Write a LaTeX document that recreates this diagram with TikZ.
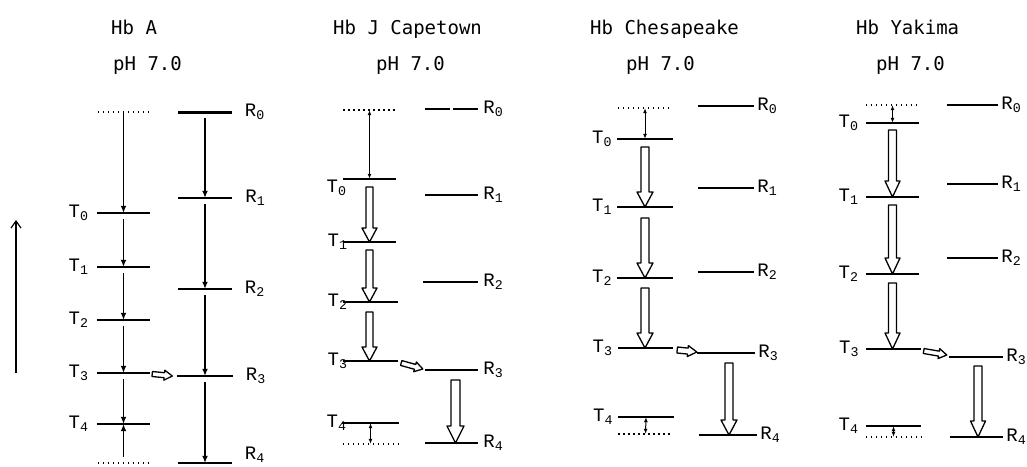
\documentclass[tikz,border=0pt]{standalone}
\usepackage{fontspec}
\newfontfamily\titlefont{DejaVu Sans Mono}
\newfontfamily\levelfont{Liberation Mono}
\usetikzlibrary{arrows.meta,calc}

% hollow block arrow: tail, tip, half shaft, half head, head length
\newcommand\fatarrow[5]{%
  \path (#1) coordinate (ft0) (#2) coordinate (ft1);
  \path ($(ft1)!#5!(ft0)$) coordinate (fth);
  \draw[hollow] ($(ft0)!#3!90:(ft1)$) -- ($(fth)!#3!90:(ft1)$)
    -- ($(fth)!#4!90:(ft1)$) -- (ft1) -- ($(fth)!#4!-90:(ft1)$)
    -- ($(fth)!#3!-90:(ft1)$) -- ($(ft0)!#3!-90:(ft1)$) -- cycle;}

\begin{document}
\begin{tikzpicture}[x=1pt, y=-1pt,
    lvl/.style={inner sep=0pt, minimum height=0pt, minimum width=53pt,
      append after command={(\tikzlastnode.west) edge[#1] (\tikzlastnode.east)}},
    lvl/.default=solidbar,
    solidbar/.style={-, line width=1.8pt},
    thinbar/.style={-, line width=1.2pt},
    heavybar/.style={-, line width=2.4pt},
    thickbar/.style={-, line width=3pt},
    brokenbar/.style={-, line width=1.6pt, dash pattern=on 25pt off 3pt},
    dotbar/.style={-, line width=1.3pt, dash pattern=on 1.3pt off 3.7pt},
    every label/.style={font=\levelfont\fontsize{19}{19}\selectfont, inner sep=0pt},
    tl/.style 2 args={label={[label distance=#1]left:T\textsubscript{#2}}},
    rl/.style 2 args={label={[label distance=#1]right:R\textsubscript{#2}}},
    hbtitle/.style={font=\titlefont\fontsize{19}{19}\selectfont, anchor=base west, inner sep=0pt},
    drop/.style={line width=1.3pt, -{Latex[length=7pt,width=6pt]}, shorten <=6pt},
    swing/.style={line width=1pt, {Latex[length=5pt,width=4pt]}-{Latex[length=5pt,width=4pt]}},
    hollow/.style={draw, fill=white, line width=1.3pt, line join=round}]

  \useasboundingbox (0,0) rectangle (1027,466);

  % titles
  \node[hbtitle] (ta) at (111,34) {Hb A};
  \node[hbtitle] (pa) at (113,70) {pH 7.0};
  \node[hbtitle] (tb) at (333,34) {Hb J Capetown};
  \node[hbtitle] (pb) at (376,70) {pH 7.0};
  \node[hbtitle] (tc) at (590,34) {Hb Chesapeake};
  \node[hbtitle] (pc) at (626,70) {pH 7.0};
  \node[hbtitle] (td) at (856,34) {Hb Yakima};
  \node[hbtitle] (pd) at (876,70) {pH 7.0};

  % energy axis
  \coordinate (up0) at (16,373);
  \coordinate (up1) at (16,220);
  \draw[line width=1.2pt, -{Straight Barb[length=7pt,width=10pt]}] (up0) -- (up1);

  % Hb A
  \node[lvl=dotbar, minimum width=51pt] (aD0) at (123.5,112) {};
  \node[lvl, tl={8pt}{0}] (aT0) at (123.5,213) {};
  \node[lvl, tl={8pt}{1}] (aT1) at (123.5,267) {};
  \node[lvl, tl={8pt}{2}] (aT2) at (123.5,320) {};
  \node[lvl, tl={8pt}{3}] (aT3) at (123.5,373) {};
  \node[lvl, tl={8pt}{4}] (aT4) at (123.5,424) {};
  \node[lvl=dotbar, minimum width=51pt] (aD4) at (123.5,463) {};
  \node[lvl=thickbar, rl={13pt}{0}] (aR0) at (205,112) {};
  \node[lvl, minimum width=54pt, rl={13pt}{1}] (aR1) at (205,198) {};
  \node[lvl, rl={13pt}{2}] (aR2) at (205,289) {};
  \node[lvl, minimum width=55pt, rl={13pt}{3}] (aR3) at (205,376) {};
  \node[lvl, label={[label distance=13pt, yshift=8pt]right:R\textsubscript{4}}] (aR4) at (205,463) {};

  \path[drop] (aD0) edge[shorten <=0pt] (aT0)
              (aT0) edge (aT1)
              (aT1) edge (aT2)
              (aT2) edge (aT3)
              (aT3) edge (aT4)
              (aD4) edge (aT4)
              (aR0) edge (aR1)
              (aR1) edge (aR2)
              (aR2) edge (aR3)
              (aR3) edge (aR4);
  \fatarrow{$(aT3.east)+(2,1)$}{$(aR3.west)+(-5,0)$}{2.5pt}{5pt}{8pt}

  % Hb J Capetown
  \node[lvl=dotbar, minimum width=52pt] (bD0) at (369.5,110) {};
  \node[lvl, label={[label distance=-4pt, yshift=-9pt]left:T\textsubscript{0}}] (bT0) at (369.5,179) {};
  \node[lvl, tl={-5pt}{1}] (bT1) at (369.5,242) {};
  \node[lvl, minimum width=55pt, tl={-5pt}{2}] (bT2) at (370.5,302) {};
  \node[lvl, minimum width=55pt, tl={-5pt}{3}] (bT3) at (370.5,361) {};
  \node[lvl, minimum width=57pt, tl={-5pt}{4}] (bT4) at (370.5,423) {};
  \node[lvl=dotbar, minimum width=55pt] (bD4) at (370.5,444) {};
  \node[lvl=brokenbar, rl={5pt}{0}] (bR0) at (451.5,109) {};
  \node[lvl=thinbar, rl={5pt}{1}] (bR1) at (451.5,195) {};
  \node[lvl=heavybar, minimum width=55pt, rl={5pt}{2}] (bR2) at (450.5,282) {};
  \node[lvl=thinbar, rl={5pt}{3}] (bR3) at (451.5,370) {};
  \node[lvl, rl={5pt}{4}] (bR4) at (451.5,443) {};

  \path[swing] (bD0) edge (bT0)
               (bT4) edge (bD4);
  \fatarrow{$(bT0)+(0,8)$}{bT1.center}{3.5pt}{7.5pt}{14pt}
  \fatarrow{$(bT1)+(0,8)$}{$(bT2)+(-1,0)$}{3.5pt}{7.5pt}{14pt}
  \fatarrow{$(bT2)+(-1,10)$}{$(bT3)+(-1,0)$}{3.5pt}{7.5pt}{14pt}
  \fatarrow{$(bT3.east)+(3,2)$}{$(bR3.west)+(-2,-1)$}{2.5pt}{5pt}{8pt}
  \fatarrow{$(bR3)+(4,10)$}{$(bR4)+(4,0)$}{4.5pt}{8.5pt}{17pt}

  % Hb Chesapeake
  \node[lvl=dotbar, minimum width=54pt] (cD0) at (645,108) {};
  \node[lvl, minimum width=55pt, tl={5pt}{0}] (cT0) at (645,139) {};
  \node[lvl, minimum width=55pt, tl={5pt}{1}] (cT1) at (645,207) {};
  \node[lvl, minimum width=55pt, tl={5pt}{2}] (cT2) at (645,278) {};
  \node[lvl, minimum width=55pt, tl={5pt}{3}] (cT3) at (645.5,348) {};
  \node[lvl, minimum width=55pt, tl={5pt}{4}] (cT4) at (646,417) {};
  \node[lvl=dotbar, minimum width=54pt] (cD4) at (645.5,434) {};
  \node[lvl, minimum width=56pt, rl={3pt}{0}] (cR0) at (726,106) {};
  \node[lvl=thinbar, minimum width=56pt, rl={3pt}{1}] (cR1) at (726,188) {};
  \node[lvl, minimum width=56pt, rl={3pt}{2}] (cR2) at (726,272) {};
  \node[lvl=thinbar, minimum width=58pt, rl={3pt}{3}] (cR3) at (726,353) {};
  \node[lvl, minimum width=58pt, rl={3pt}{4}] (cR4) at (728,435) {};

  \path[swing] (cD0) edge (cT0)
               (cT4) edge (cD4);
  \fatarrow{$(cT0)+(0,8)$}{cT1.center}{4pt}{8pt}{15pt}
  \fatarrow{$(cT1)+(0,11)$}{cT2.center}{4pt}{8pt}{15pt}
  \fatarrow{$(cT2)+(0,10)$}{$(cT3)+(-0.5,0)$}{4pt}{8pt}{15pt}
  \fatarrow{$(cT3.east)+(4,2)$}{$(cR3.west)+(0,-1)$}{3pt}{5.5pt}{9pt}
  \fatarrow{$(cR3)+(3,10)$}{$(cR4)+(1,0)$}{4pt}{8pt}{15pt}

  % Hb Yakima
  \node[lvl=dotbar] (dD0) at (892.5,105) {};
  \node[lvl, tl={7pt}{0}] (dT0) at (892.5,123) {};
  \node[lvl, tl={7pt}{1}] (dT1) at (892.5,197) {};
  \node[lvl, tl={7pt}{2}] (dT2) at (892.5,274) {};
  \node[lvl, minimum width=54pt, tl={7pt}{3}] (dT3) at (893.5,349) {};
  \node[lvl, minimum width=55pt, tl={7pt}{4}] (dT4) at (893.5,426) {};
  \node[lvl=dotbar, minimum width=55pt] (dD4) at (893.5,437) {};
  \node[lvl, minimum width=51pt, rl={3pt}{0}] (dR0) at (972.5,105) {};
  \node[lvl=thinbar, minimum width=51pt, rl={3pt}{1}] (dR1) at (972.5,184) {};
  \node[lvl=thinbar, minimum width=51pt, rl={3pt}{2}] (dR2) at (972.5,258) {};
  \node[lvl=thinbar, minimum width=54pt, rl={3pt}{3}] (dR3) at (976,357) {};
  \node[lvl, minimum width=53pt, rl={3pt}{4}] (dR4) at (976.5,437) {};

  \path[swing] (dD0) edge (dT0)
               (dT4) edge (dD4);
  \fatarrow{$(dT0)+(0,7)$}{dT1.center}{4pt}{7.5pt}{16pt}
  \fatarrow{$(dT1)+(0,8)$}{dT2.center}{4pt}{7.5pt}{16pt}
  \fatarrow{$(dT2)+(0,9)$}{$(dT3)+(-1,0)$}{4pt}{7.5pt}{16pt}
  \fatarrow{$(dT3.east)+(3,2)$}{$(dR3.west)+(-2,-2)$}{2.5pt}{5pt}{8pt}
  \fatarrow{$(dR3)+(2,9)$}{$(dR4)+(1.5,0)$}{4pt}{7.5pt}{16pt}
\end{tikzpicture}
\end{document}
